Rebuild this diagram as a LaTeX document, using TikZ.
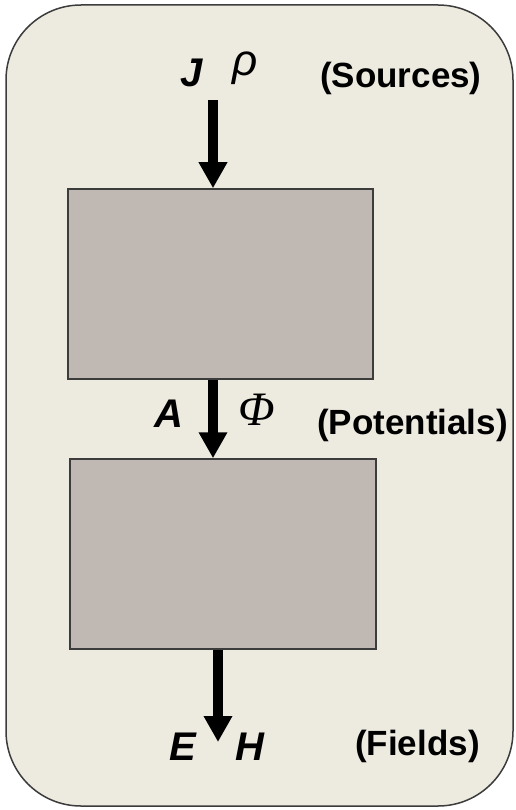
\documentclass[tikz,border=0pt]{standalone}
\usepackage{fontspec}
\setmainfont{Liberation Sans}
\newfontfamily\serifit{Liberation Serif}[ItalicFont=* Italic]
\usetikzlibrary{arrows.meta}
\definecolor{panelbg}{RGB}{237,234,223}
\definecolor{boxfill}{RGB}{191,184,179}
\definecolor{edgegray}{RGB}{60,60,60}
\tikzset{
  panel/.style={draw=edgegray, line width=1.5pt, fill=panelbg, rounded corners=75pt},
  blockbox/.style={draw=edgegray, line width=1.5pt, fill=boxfill, inner sep=0pt},
  flow/.style={line width=10pt, -{Triangle[width=27pt,length=26pt]}},
  tag/.style={anchor=base west, inner sep=0pt, font=\fontsize{35}{38}\selectfont\bfseries},
  sym/.style={anchor=base, inner sep=0pt, font=\fontsize{40}{44}\selectfont\bfseries\itshape},
}
\begin{document}
\begin{tikzpicture}[x=1pt,y=-1pt]
\useasboundingbox (0,0) rectangle (515,810);
\draw[panel] (6,5) rectangle (513,806);
\node[blockbox, minimum width=305pt, minimum height=190pt] (b1) at (220.5,284) {};
\node[blockbox, minimum width=306pt, minimum height=190pt] (b2) at (223,554) {};
\coordinate (s1) at (213,100);
\coordinate (e3) at (218,742);
\draw[flow] (s1) -- (s1 |- b1.north);
\draw[flow] (s1 |- b1.south) -- (s1 |- b2.north);
\draw[flow] (e3 |- b2.south) -- (e3);
\node[sym] (J) at (192,87) {J};
\node[sym, font=\fontsize{44}{48}\selectfont\itshape] (rho) at (245,76) {ρ};
\node[tag] (src) at (320,88) {(Sources)};
\node[sym] (A) at (169,427) {A};
\node[sym, font=\fontsize{48}{52}\selectfont\serifit\itshape] (phi) at (257,425) {Φ};
\node[tag] (pot) at (317,434) {(Potentials)};
\node[sym] (E) at (183,760) {E};
\node[sym] (H) at (250,760) {H};
\node[tag] (fld) at (355,755) {(Fields)};
\end{tikzpicture}
\end{document}
